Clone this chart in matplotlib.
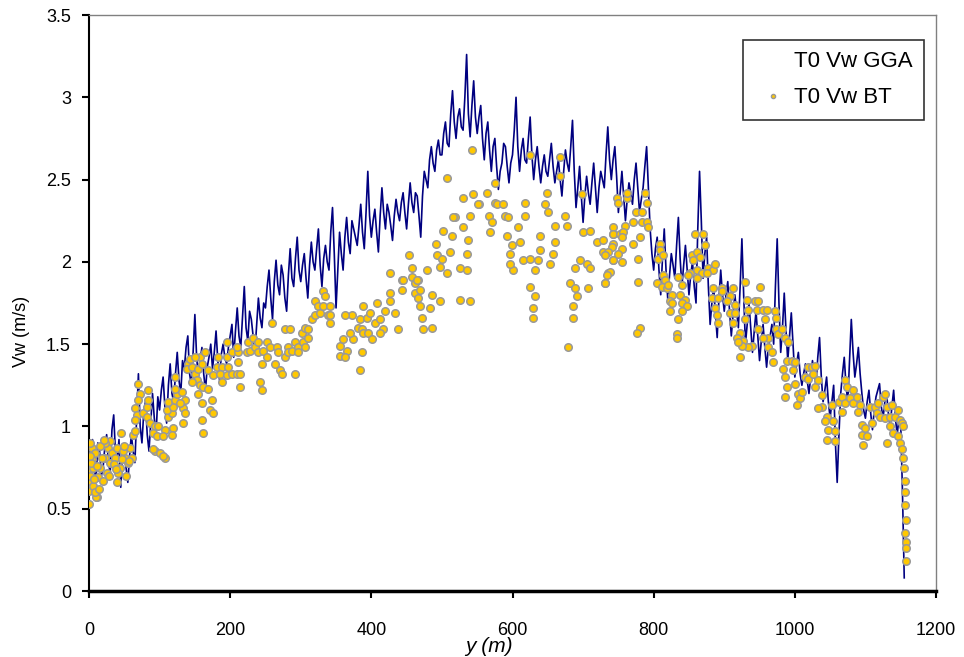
import numpy as np
import matplotlib
matplotlib.use("Agg")
import matplotlib.pyplot as plt

plt.rcParams['font.family'] = ['Liberation Sans', 'DejaVu Sans']

# ---- data ----
x_ticks = [0, 200, 400, 600, 800, 1000, 1200]
y_ticks = [0, 0.5, 1, 1.5, 2, 2.5, 3, 3.5]
y_tick_labels = ["0", "0.5", "1", "1.5", "2", "2.5", "3", "3.5"]

# GGA velocity sampled every 2.5 m along the transect
gga_step = 2.5
gga_v = [
    0.70, 0.82, 0.92, 0.74, 0.68, 0.90, 0.85, 0.70, 0.75, 0.88, 0.95, 0.78, 0.72, 0.98, 1.07, 0.84, 0.80, 0.92, 0.63, 0.85,
    0.88, 0.75, 0.66, 0.82, 0.95, 0.85, 0.78, 1.05, 1.32, 1.00, 0.90, 1.08, 1.15, 0.95, 0.85, 1.02, 1.20, 1.05, 0.95, 1.18,
    1.10, 1.22, 1.30, 1.12, 1.02, 1.25, 1.38, 1.20, 1.15, 1.32, 1.45, 1.28, 1.20, 1.40, 1.35, 1.48, 1.55, 1.32, 1.25, 1.45,
    1.68, 1.42, 1.30, 1.40, 1.48, 1.32, 1.22, 1.36, 1.42, 1.50, 1.35, 1.45, 1.58, 1.40, 1.28, 1.44, 1.50, 1.42, 1.38, 1.48,
    1.55, 1.62, 1.42, 1.58, 1.72, 1.55, 1.48, 1.66, 1.85, 1.60, 1.52, 1.70, 1.65, 1.55, 1.45, 1.62, 1.78, 1.66, 1.60, 1.75,
    1.72, 1.85, 1.95, 1.78, 1.65, 1.88, 2.01, 1.86, 1.80, 1.98, 1.92, 1.78, 1.70, 1.92, 2.08, 1.90, 1.85, 2.02, 2.15, 1.95,
    1.88, 1.98, 2.05, 1.90, 1.78, 1.98, 2.12, 2.00, 1.95, 2.08, 2.20, 1.98, 1.85, 2.02, 2.10, 2.00, 1.95, 2.18, 2.33, 2.05,
    1.72, 1.95, 2.18, 2.05, 1.95, 2.15, 2.27, 2.12, 2.05, 2.25, 2.20, 2.15, 2.10, 2.22, 2.35, 2.18, 2.08, 2.30, 2.55, 2.28,
    2.15, 2.25, 2.32, 2.18, 2.06, 2.28, 2.45, 2.30, 2.20, 2.35, 2.30, 2.22, 2.13, 2.28, 2.38, 2.30, 2.25, 2.36, 2.42, 2.30,
    2.20, 2.35, 2.48, 2.36, 2.30, 2.42, 2.40, 2.28, 2.15, 2.40, 2.55, 2.50, 2.45, 2.62, 2.70, 2.60, 2.55, 2.68, 2.74, 2.65,
    2.65, 2.78, 2.85, 2.72, 2.70, 2.90, 3.04, 2.85, 2.75, 2.88, 2.93, 2.82, 2.80, 3.00, 3.26, 2.90, 2.76, 2.95, 3.10, 2.88,
    2.78, 2.88, 2.95, 2.75, 2.62, 2.78, 2.85, 2.68, 2.55, 2.70, 2.75, 2.58, 2.44, 2.55, 2.60, 2.72, 2.70, 2.58, 2.48, 2.60,
    2.65, 2.80, 3.00, 2.70, 2.55, 2.68, 2.75, 2.62, 2.60, 2.75, 2.88, 2.65, 2.50, 2.62, 2.70, 2.58, 2.48, 2.58, 2.65, 2.55,
    2.52, 2.62, 2.72, 2.58, 2.48, 2.55, 2.62, 2.50, 2.40, 2.55, 2.68, 2.60, 2.55, 2.70, 2.86, 2.55, 2.33, 2.45, 2.58, 2.40,
    2.24, 2.40, 2.52, 2.42, 2.35, 2.48, 2.60, 2.45, 2.30, 2.45, 2.55, 2.50, 2.45, 2.65, 2.82, 2.62, 2.50, 2.62, 2.70, 2.52,
    2.30, 2.42, 2.55, 2.40, 2.25, 2.38, 2.48, 2.42, 2.35, 2.50, 2.60, 2.45, 2.30, 2.38, 2.45, 2.58, 2.70, 2.45, 2.20, 2.05,
    1.95, 2.08, 2.15, 1.95, 1.80, 2.02, 2.20, 1.95, 1.77, 1.92, 2.05, 1.98, 1.90, 2.10, 2.27, 2.02, 1.85, 1.98, 2.10, 1.95,
    1.80, 1.92, 2.00, 1.85, 1.75, 2.20, 2.55, 2.25, 1.90, 2.05, 2.15, 1.85, 1.62, 1.75, 1.85, 1.68, 1.54, 1.78, 1.95, 1.80,
    1.70, 1.80, 1.88, 1.70, 1.55, 1.68, 1.80, 1.70, 1.60, 1.85, 2.14, 1.80, 1.50, 1.62, 1.75, 1.60, 1.45, 1.58, 1.70, 1.55,
    1.40, 1.52, 1.62, 1.48, 1.36, 1.48, 1.55, 1.62, 1.50, 1.85, 2.14, 1.75, 1.45, 1.60, 1.81, 1.58, 1.40, 1.55, 1.69, 1.50,
    1.30, 1.38, 1.45, 1.32, 1.25, 1.32, 1.38, 1.28, 1.20, 1.30, 1.40, 1.32, 1.25, 1.42, 1.54, 1.30, 1.15, 1.22, 1.30, 1.15,
    1.05, 1.15, 1.25, 0.90, 0.66, 0.95, 1.20, 1.32, 1.42, 1.25, 1.15, 1.40, 1.65, 1.45, 1.30, 1.38, 1.48, 1.32, 1.20, 1.10,
    1.05, 1.15, 1.22, 1.08, 0.98, 1.10, 1.18, 1.22, 1.26, 1.12, 1.05, 1.15, 1.20, 1.08, 1.00, 1.12, 1.22, 1.05, 0.95, 1.05,
    1.02, 0.60, 0.08,
]

# Bottom-track velocity points (distance m, velocity m/s)
bt_x = [
    4, 4, 0, 1, 0, 11, 9, 16, 13, 20, 23, 27, 33, 30, 40, 37, 44, 41, 51, 55,
    58, 40, 45, 30, 23, 61, 47, 18, 6, 10, 0, 2, 3, 1, 5, 7, 2, 8, 12, 15,
    26, 35, 48, 52, 57, 14, 21, 29, 38, 50,
    62, 65, 69, 72, 69, 65, 68, 65, 77, 82, 82, 84, 84, 86, 94, 91, 96, 98, 108, 105,
    94, 108, 101, 91, 105,
    112, 118, 111, 119, 112, 122, 125, 132, 136, 133, 136, 129, 119, 118, 122, 133, 122, 140, 143, 139,
    146, 150, 153, 146, 154, 157, 150, 160, 157, 154, 162, 169, 160, 174, 171, 176, 160, 162, 164, 169,
    176, 181, 188, 183, 188, 186, 196, 197, 196, 203, 210, 214, 214, 196, 203, 211, 210, 211, 224, 228,
    225, 232, 235, 239, 239, 246, 245, 242, 245, 252, 252, 256, 259, 264, 266, 268, 271, 273, 278, 285,
    278, 282, 282, 287, 292, 292, 296, 303, 302, 306, 310, 310, 306, 316, 320, 320, 324, 327, 332, 332,
    334, 339, 341, 296, 341, 341,
    356, 365, 387, 356, 384, 363, 360, 374, 370, 381, 384, 373, 363, 388, 394, 387, 398, 405, 412, 408,
    419, 434, 426, 426, 388, 395, 401, 417, 438, 412,
    426, 443, 458, 462, 466, 443, 462, 466, 486, 497, 469, 483, 472, 473, 486, 526, 540,
    453, 458, 445, 465, 469, 479, 493, 492, 500, 507, 497, 511, 514, 519, 530, 530, 537, 535, 526, 535,
    540, 544, 553, 564, 566, 571, 568, 575, 578, 587, 589, 594, 592, 608, 611, 599, 597, 601, 597, 618,
    618, 615, 625, 639, 636, 632, 625, 632, 629, 629, 639, 646, 650, 660, 657, 653, 660, 674, 677, 689,
    681, 689, 692, 686, 686, 696, 705, 710, 700, 710, 720, 728, 731, 735, 742, 742, 742, 667, 667, 649,
    698, 543, 575, 679, 707, 507, 502, 516, 551, 625,
    748, 762, 750, 762, 788, 790, 775, 783, 783, 790, 792, 771, 759, 743, 743, 752, 757, 755, 781, 728,
    741, 755, 735, 731, 750, 743, 755, 771, 778, 738, 734, 731, 778, 781, 776,
    809, 809, 806, 813, 813, 816, 805, 812, 819, 820, 826, 823, 826, 823, 834, 840, 837, 844, 840, 847,
    840, 834, 833, 833, 859, 870, 873, 854, 861, 866, 856, 861, 852, 868, 877, 884, 875, 887, 861, 849,
    884, 897, 897, 883, 891, 908, 912, 904, 887, 908, 915, 915, 890, 891, 912, 929, 932, 929, 934, 944,
    946, 951, 948, 955, 960, 958, 972, 974, 974, 976, 962, 955, 948, 922, 927, 939, 934, 925, 918, 920,
    962, 968, 969, 922,
    986, 982, 990, 989, 983, 986, 989, 986, 996, 1000, 997, 1000, 1005, 1007, 1003, 1010, 1014, 1019, 1024, 1029,
    1019, 1026, 1029, 1033, 1039, 1039, 1033, 1046, 1043, 1047, 1054, 1057, 1046, 1057, 1053, 1062, 1067, 1067, 1071, 1071,
    1074, 1078, 1082, 1082, 1088, 1092, 1090, 1095, 1095, 1097, 1099, 1102, 1107, 1109, 1114, 1116, 1121, 1118, 1125, 1128,
    1130, 1128, 1130, 1135, 1137, 1135, 1139, 1142, 1146, 1149, 1152, 1146, 1149, 1152, 1153, 1155, 1156, 1156, 1156, 1157,
    1156, 1157, 1158, 1158, 1153,
]
bt_y = [
    0.87, 0.80, 0.74, 0.67, 0.61, 0.57, 0.84, 0.75, 0.69, 0.67, 0.81, 0.87, 0.84, 0.78, 0.87, 0.81, 0.75, 0.72, 0.81, 0.78,
    0.87, 0.66, 0.96, 0.91, 0.90, 0.81, 0.80, 0.81, 0.75, 0.57, 0.53, 0.70, 0.78, 0.90, 0.64, 0.68, 0.82, 0.60, 0.76, 0.88,
    0.72, 0.77, 0.85, 0.70, 0.79, 0.62, 0.92, 0.70, 0.74, 0.88,
    0.95, 0.97, 1.26, 1.20, 1.16, 1.11, 1.07, 1.04, 1.08, 1.12, 1.06, 1.22, 1.16, 1.02, 1.00, 0.96, 0.94, 1.00, 0.98, 0.94,
    0.85, 0.81, 0.84, 0.86, 0.82,
    1.06, 1.08, 1.10, 1.12, 1.15, 1.16, 1.20, 1.21, 1.16, 1.11, 1.08, 1.14, 0.99, 0.95, 1.23, 1.02, 1.30, 1.38, 1.41, 1.35,
    1.36, 1.32, 1.28, 1.27, 1.35, 1.42, 1.42, 1.38, 1.25, 1.20, 1.24, 1.23, 1.14, 1.16, 1.10, 1.08, 1.04, 0.96, 1.45, 1.34,
    1.31, 1.36, 1.36, 1.42, 1.27, 1.32, 1.42, 1.36, 1.31, 1.32, 1.32, 1.32, 1.24, 1.51, 1.45, 1.45, 1.48, 1.39, 1.45, 1.46,
    1.51, 1.54, 1.48, 1.45, 1.51, 1.46, 1.38, 1.27, 1.22, 1.42, 1.51, 1.48, 1.63, 1.38, 1.48, 1.45, 1.34, 1.32, 1.59, 1.59,
    1.42, 1.48, 1.45, 1.46, 1.32, 1.51, 1.48, 1.51, 1.57, 1.60, 1.59, 1.54, 1.48, 1.65, 1.68, 1.76, 1.73, 1.69, 1.82, 1.73,
    1.79, 1.68, 1.63, 1.45, 1.73, 1.68,
    1.49, 1.46, 1.45, 1.43, 1.34, 1.42, 1.53, 1.53, 1.57, 1.60, 1.65, 1.68, 1.68, 1.73, 1.66, 1.59, 1.69, 1.63, 1.65, 1.75,
    1.70, 1.69, 1.81, 1.76, 1.57, 1.57, 1.53, 1.59, 1.59, 1.57,
    1.93, 1.89, 1.91, 1.87, 1.89, 1.83, 1.81, 1.78, 1.80, 1.76, 1.73, 1.72, 1.66, 1.59, 1.60, 1.77, 1.76,
    2.04, 1.96, 1.89, 1.89, 1.83, 1.95, 2.04, 2.11, 2.02, 1.93, 1.97, 2.06, 2.16, 2.27, 2.21, 2.39, 2.13, 2.05, 1.96, 1.95,
    2.28, 2.41, 2.35, 2.42, 2.28, 2.24, 2.18, 2.36, 2.35, 2.35, 2.28, 2.27, 2.16, 2.21, 2.12, 2.10, 2.05, 1.95, 1.99, 2.36,
    2.28, 2.01, 2.02, 2.07, 2.01, 1.95, 1.85, 1.79, 1.72, 1.66, 2.16, 2.35, 2.30, 2.12, 2.05, 1.99, 2.22, 2.28, 2.22, 1.96,
    1.87, 1.84, 1.79, 1.73, 1.66, 2.01, 1.99, 1.96, 2.18, 2.19, 2.12, 2.06, 1.87, 1.93, 2.01, 2.11, 2.17, 2.52, 2.64, 2.42,
    2.41, 2.68, 2.48, 1.48, 1.84, 2.51, 2.19, 2.27, 2.35, 2.65,
    2.39, 2.39, 2.36, 2.42, 2.42, 2.36, 2.30, 2.30, 2.24, 2.24, 2.21, 2.24, 2.22, 2.21, 2.17, 2.17, 2.18, 2.15, 2.15, 2.13,
    2.09, 2.08, 2.06, 2.04, 2.05, 2.01, 2.00, 2.11, 2.02, 1.94, 1.92, 1.87, 1.88, 1.60, 1.57,
    2.11, 2.07, 2.02, 2.04, 1.92, 1.89, 1.87, 1.85, 1.84, 1.86, 1.80, 1.76, 1.75, 1.70, 1.91, 1.86, 1.80, 1.77, 1.75, 1.73,
    1.70, 1.65, 1.56, 1.54, 2.17, 2.17, 2.10, 2.04, 2.06, 2.03, 2.01, 1.95, 1.93, 1.93, 1.96, 1.95, 1.93, 1.99, 1.90, 1.92,
    1.84, 1.84, 1.82, 1.78, 1.78, 1.79, 1.84, 1.76, 1.72, 1.69, 1.74, 1.69, 1.68, 1.63, 1.63, 1.88, 1.77, 1.65, 1.71, 1.76,
    1.71, 1.85, 1.76, 1.71, 1.71, 1.65, 1.70, 1.66, 1.59, 1.56, 1.54, 1.54, 1.59, 1.57, 1.52, 1.49, 1.48, 1.49, 1.54, 1.51,
    1.48, 1.45, 1.39, 1.42,
    1.54, 1.59, 1.51, 1.40, 1.35, 1.30, 1.24, 1.18, 1.40, 1.39, 1.34, 1.26, 1.20, 1.17, 1.13, 1.21, 1.30, 1.36, 1.36, 1.37,
    1.29, 1.32, 1.24, 1.28, 1.19, 1.12, 1.11, 1.06, 1.03, 0.98, 1.03, 0.97, 0.92, 0.91, 1.13, 1.15, 1.18, 1.09, 1.14, 1.28,
    1.24, 1.17, 1.22, 1.14, 1.18, 1.13, 1.09, 1.01, 0.95, 0.89, 0.99, 0.94, 1.12, 1.02, 1.12, 1.08, 1.06, 1.14, 1.18, 1.20,
    1.12, 1.05, 0.90, 1.06, 1.13, 1.00, 0.96, 1.06, 1.10, 1.04, 1.02, 0.94, 0.90, 0.86, 0.81, 0.75, 0.67, 0.60, 0.52, 0.43,
    0.35, 0.30, 0.26, 0.18, 1.00,
]

gga_x = np.arange(len(gga_v)) * gga_step

# ---- figure ----
fig = plt.figure(figsize=(9.64, 6.57), dpi=100)
ax = fig.add_axes([89/964, 1-591/657, (936-89)/964, (591-15)/657])

ax.plot(gga_x, gga_v, color='#000080', lw=1.2, label='T0 Vw GGA', zorder=2)
ax.plot(bt_x, bt_y, linestyle='none', marker='o', markersize=5.4,
        markerfacecolor='#FFC800', markeredgecolor='#999999', markeredgewidth=1.1,
        label='T0 Vw BT', zorder=3)

ax.set_xlim(0, 1200)
ax.set_ylim(0, 3.5)
ax.set_xticks(x_ticks)
ax.set_xticklabels([str(v) for v in x_ticks], fontsize=13)
ax.set_yticks(y_ticks)
ax.set_yticklabels(y_tick_labels, fontsize=13)
ax.tick_params(axis='both', direction='out', length=5, width=1.5, colors='black')
ax.tick_params(axis='y', pad=8)
ax.tick_params(axis='x', pad=17)

for s in ['top', 'right']:
    ax.spines[s].set_color('#808080')
    ax.spines[s].set_linewidth(1.0)
ax.spines['left'].set_linewidth(1.5)
ax.spines['bottom'].set_linewidth(2.5)

fig.text(21/964, 1-331/657, 'Vw (m/s)', rotation=90, ha='center', va='center', fontsize=13)
fig.text(489/964, 1-646/657, 'y (m)', ha='center', va='center', fontsize=15, style='italic')

# legend: first entry shows no visible handle in the reference
leg = ax.legend(handles=[
        plt.Line2D([], [], color='none', label='T0 Vw GGA'),
        plt.Line2D([], [], linestyle='none', marker='o', markersize=3,
                   markerfacecolor='#FFC800', markeredgecolor='#999999', label='T0 Vw BT')],
    loc='upper left', bbox_to_anchor=(0.772, 0.957), fontsize=16,
    frameon=True, fancybox=False, edgecolor='black', handlelength=1.7,
    handletextpad=0.1, borderpad=0.5, labelspacing=0.7, borderaxespad=0)
leg.get_frame().set_linewidth(1.2)

fig.savefig('out.png', dpi=100)
